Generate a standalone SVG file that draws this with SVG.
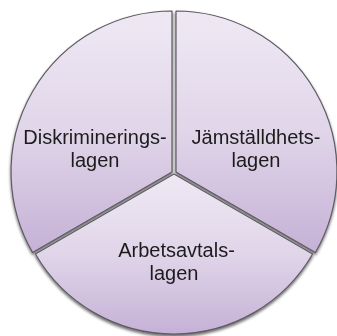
<svg xmlns="http://www.w3.org/2000/svg" width="337" height="336" viewBox="0 0 337 336">
  <defs>
    <linearGradient id="sliceFill" x1="0" y1="0" x2="0" y2="1">
      <stop offset="0" stop-color="#efe9f4"/>
      <stop offset="0.5" stop-color="#e0d5e9"/>
      <stop offset="1" stop-color="#c5b1d6"/>
    </linearGradient>
    <filter id="shadow" x="-10%" y="-10%" width="120%" height="120%">
      <feGaussianBlur in="SourceAlpha" stdDeviation="1.5"/>
      <feOffset dx="0" dy="1.5" result="blur"/>
      <feComponentTransfer><feFuncA type="linear" slope="0.6"/></feComponentTransfer>
      <feMerge><feMergeNode/><feMergeNode in="SourceGraphic"/></feMerge>
    </filter>
    <style>
      .slice { fill: url(#sliceFill); stroke: #5e5a62; stroke-width: 1.2; stroke-linejoin: round; }
      .label { font-family: "Liberation Sans", Arial, Helvetica, sans-serif; font-size: 20px; fill: #1c1c1c; text-anchor: middle; }
    </style>
  </defs>

  <g id="pie" filter="url(#shadow)">
    <g id="diskrimineringslagen">
      <path class="slice" d="M172,172 L172,11 A161,161 0 0 0 32.6,252.5 Z"/>
      <text class="label" x="95" y="144">Diskriminerings-</text>
      <text class="label" x="95" y="167">lagen</text>
    </g>
    <g id="jamstalldhetslagen">
      <path class="slice" d="M176,172 L176,11 A161,161 0 0 1 315.4,252.5 Z"/>
      <text class="label" x="256" y="144">Jämställdhets-</text>
      <text class="label" x="256" y="167">lagen</text>
    </g>
    <g id="arbetsavtalslagen">
      <path class="slice" d="M174,174 L312.6,254 A160,160 0 0 1 35.4,254 Z"/>
      <text class="label" x="176.5" y="257">Arbetsavtals-</text>
      <text class="label" x="174" y="280">lagen</text>
    </g>
  </g>
</svg>
